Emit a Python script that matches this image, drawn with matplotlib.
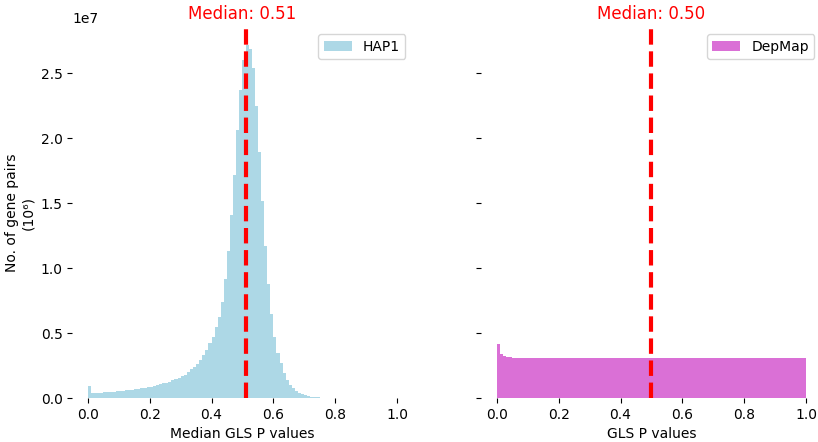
import numpy as np
import matplotlib.pyplot as plt

# histogram counts per 0.01-wide bin over [0, 1], in millions of gene pairs
hap1_counts_m = [
    0.92,
    0.36, 0.37, 0.39, 0.41, 0.43, 0.45, 0.47, 0.49, 0.51, 0.54,
    0.56, 0.59, 0.62, 0.65, 0.68, 0.71, 0.75, 0.79, 0.83, 0.88,
    0.93, 0.99, 1.05, 1.12, 1.19, 1.27, 1.36, 1.46, 1.55, 1.66,
    1.80, 2.00, 2.20, 2.40, 2.65, 2.95, 3.30, 3.70, 4.20, 4.70,
    5.50, 6.25, 7.40, 9.15, 11.3, 14.1, 17.2, 20.6, 23.7, 26.0,
    27.2, 26.9, 25.4, 22.5, 18.9, 15.2, 11.7, 8.8, 6.5, 4.7,
    3.5, 2.7, 1.9, 1.4, 1.0, 0.77, 0.56, 0.41, 0.30, 0.22,
    0.15, 0.11, 0.08, 0.06, 0.04, 0.02, 0.01, 0.0, 0.0, 0.0,
    0.0, 0.0, 0.0, 0.0, 0.0, 0.0, 0.0, 0.0, 0.0, 0.0,
    0.0, 0.0, 0.0, 0.0, 0.0, 0.0, 0.0, 0.0, 0.03,
]
depmap_counts_m = [
    4.13,
    3.38, 3.23, 3.13, 3.12, 3.11, 3.10, 3.09, 3.09, 3.08, 3.07,
    3.07, 3.06, 3.05, 3.05, 3.05, 3.05, 3.05, 3.05, 3.05, 3.05,
    3.05, 3.05, 3.05, 3.05, 3.05, 3.05, 3.05, 3.05, 3.05, 3.05,
    3.05, 3.05, 3.05, 3.05, 3.05, 3.05, 3.05, 3.05, 3.05, 3.05,
    3.05, 3.05, 3.05, 3.05, 3.05, 3.05, 3.05, 3.05, 3.05, 3.05,
    3.05, 3.05, 3.05, 3.05, 3.05, 3.05, 3.05, 3.05, 3.05, 3.05,
    3.05, 3.05, 3.05, 3.05, 3.05, 3.05, 3.05, 3.05, 3.05, 3.05,
    3.05, 3.05, 3.05, 3.05, 3.05, 3.05, 3.05, 3.05, 3.05, 3.05,
    3.05, 3.05, 3.05, 3.05, 3.05, 3.05, 3.05, 3.05, 3.05, 3.05,
    3.05, 3.05, 3.05, 3.05, 3.05, 3.05, 3.05, 3.05, 3.05,
]
hap1_median = 0.51
depmap_median = 0.50

edges = np.linspace(0, 1, len(hap1_counts_m) + 1)
centers = (edges[:-1] + edges[1:]) / 2

fig = plt.figure(figsize=(8.18, 4.42), dpi=100)
ax1 = fig.add_axes([0.0886, 0.0995, 0.4156, 0.8394])
ax2 = fig.add_axes([0.5886, 0.0995, 0.4156, 0.8394], sharey=ax1)

ax1.hist(centers, bins=edges, weights=np.array(hap1_counts_m) * 1e6,
         color='lightblue', label='HAP1')
ax2.hist(centers, bins=edges, weights=np.array(depmap_counts_m) * 1e6,
         color='orchid', label='DepMap')

for ax, med in [(ax1, hap1_median), (ax2, depmap_median)]:
    ax.axvline(med, color='red', linestyle='--', linewidth=3)
    ax.set_title(f'Median: {med:.2f}', color='red', fontsize=12)
    ax.legend(loc='upper right')
    for s in ax.spines.values():
        s.set_visible(False)
    ax.set_xlim(-0.05, 1.05)

ax2.tick_params(labelleft=False)
ax1.set_xlabel('Median GLS P values')
ax2.set_xlabel('GLS P values')
ax1.set_ylabel('No. of gene pairs\n(10\u2076)')

fig.savefig('out.png', dpi=100)
